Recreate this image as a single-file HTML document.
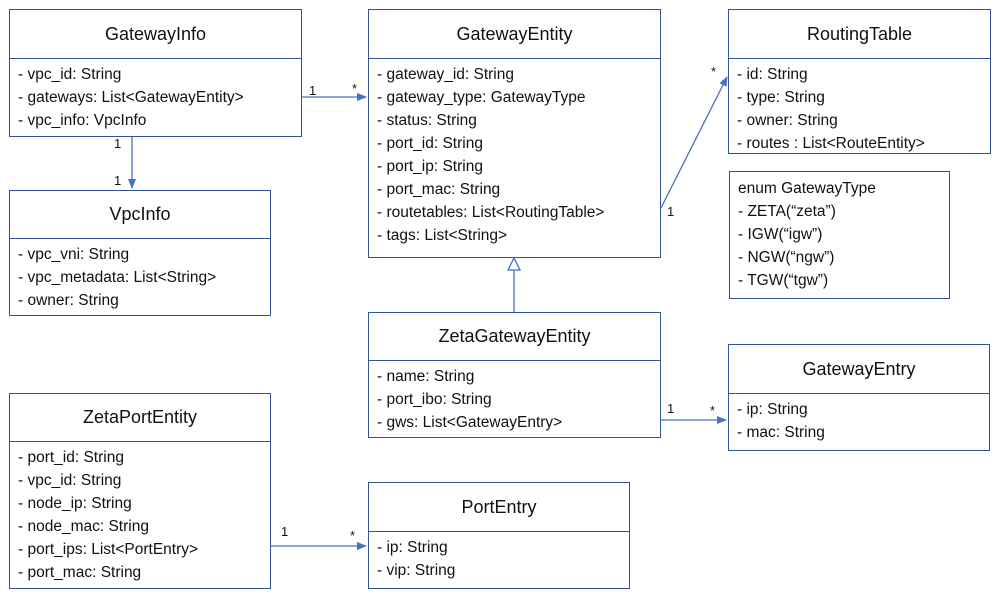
<!DOCTYPE html>
<html><head><meta charset="utf-8"><style>
body{margin:0;width:998px;height:595px;background:#fff;position:relative;font-family:"Liberation Sans",Arial,sans-serif;color:#111;overflow:hidden}
.b{position:absolute;border:1px solid #2F5597;box-sizing:border-box;background:#fff}
.h{border-bottom:1px solid #2F5597;text-align:center;font-size:18px;display:flex;align-items:center;justify-content:center}
.a{padding:4px 0 0 8px;font-size:15.5px;line-height:23px;white-space:nowrap}
svg{position:absolute;left:0;top:0}
.l{position:absolute;font-size:13px}
</style></head><body>
<div class="b" style="left:9px;top:9px;width:293px;height:128px"><div class="h" style="height:48px">GatewayInfo</div><div class="a">- vpc_id: String<br>- gateways: List&lt;GatewayEntity&gt;<br>- vpc_info: VpcInfo</div></div>
<div class="b" style="left:368px;top:9px;width:293px;height:249px"><div class="h" style="height:48px">GatewayEntity</div><div class="a">- gateway_id: String<br>- gateway_type: GatewayType<br>- status: String<br>- port_id: String<br>- port_ip: String<br>- port_mac: String<br>- routetables: List&lt;RoutingTable&gt;<br>- tags: List&lt;String&gt;</div></div>
<div class="b" style="left:728px;top:9px;width:263px;height:145px"><div class="h" style="height:48px">RoutingTable</div><div class="a">- id: String<br>- type: String<br>- owner: String<br>- routes : List&lt;RouteEntity&gt;</div></div>
<div class="b" style="left:729px;top:171px;width:221px;height:128px"><div class="a" style="padding-top:5px">enum GatewayType<br>- ZETA(“zeta”)<br>- IGW(“igw”)<br>- NGW(“ngw”)<br>- TGW(“tgw”)</div></div>
<div class="b" style="left:9px;top:190px;width:262px;height:126px"><div class="h" style="height:47px">VpcInfo</div><div class="a">- vpc_vni: String<br>- vpc_metadata: List&lt;String&gt;<br>- owner: String</div></div>
<div class="b" style="left:368px;top:312px;width:293px;height:126px"><div class="h" style="height:47px">ZetaGatewayEntity</div><div class="a">- name: String<br>- port_ibo: String<br>- gws: List&lt;GatewayEntry&gt;</div></div>
<div class="b" style="left:728px;top:344px;width:262px;height:107px"><div class="h" style="height:48px">GatewayEntry</div><div class="a">- ip: String<br>- mac: String</div></div>
<div class="b" style="left:9px;top:393px;width:262px;height:196px"><div class="h" style="height:47px">ZetaPortEntity</div><div class="a">- port_id: String<br>- vpc_id: String<br>- node_ip: String<br>- node_mac: String<br>- port_ips: List&lt;PortEntry&gt;<br>- port_mac: String</div></div>
<div class="b" style="left:368px;top:482px;width:262px;height:107px"><div class="h" style="height:48px">PortEntry</div><div class="a">- ip: String<br>- vip: String</div></div>
<svg width="998" height="595">
<defs><marker id="ar" markerWidth="10" markerHeight="8" refX="9" refY="4" orient="auto" markerUnits="userSpaceOnUse"><path d="M0,0 L10,4 L0,8 z" fill="#4472C4"/></marker></defs>
<g stroke="#4472C4" stroke-width="1.3" fill="none">
<line x1="302" y1="97" x2="366" y2="97" marker-end="url(#ar)"/>
<line x1="132" y1="137" x2="132" y2="188" marker-end="url(#ar)"/>
<line x1="661" y1="208" x2="727" y2="77" marker-end="url(#ar)"/>
<line x1="514" y1="312" x2="514" y2="270"/>
<path d="M508,270 L520,270 L514,258 z" fill="#fff"/>
<line x1="661" y1="420" x2="726" y2="420" marker-end="url(#ar)"/>
<line x1="271" y1="546" x2="366" y2="546" marker-end="url(#ar)"/>
</g></svg>
<div class="l" style="left:309px;top:83px">1</div><div class="l" style="left:352px;top:81px">*</div>
<div class="l" style="left:114px;top:136px">1</div><div class="l" style="left:114px;top:173px">1</div>
<div class="l" style="left:711px;top:64px">*</div><div class="l" style="left:667px;top:204px">1</div>
<div class="l" style="left:667px;top:401px">1</div><div class="l" style="left:710px;top:403px">*</div>
<div class="l" style="left:281px;top:524px">1</div><div class="l" style="left:350px;top:528px">*</div>
</body></html>
